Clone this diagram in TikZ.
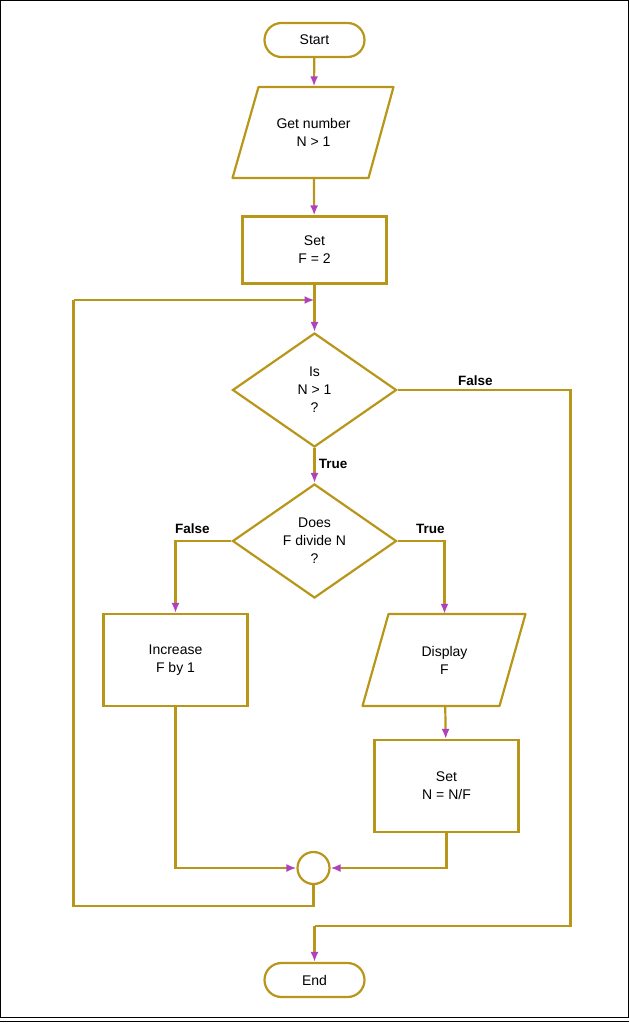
\documentclass[tikz,border=0pt]{standalone}
\usepackage{fontspec}
\setmainfont{Liberation Sans}
\usetikzlibrary{shapes.geometric,arrows.meta}
\definecolor{lc}{HTML}{B8961A}
\definecolor{tip}{HTML}{B040C0}
\begin{document}
\begin{tikzpicture}[x=1pt,y=-1pt,
  every node/.style={font=\fontsize{14}{18}\selectfont,align=center},
  box/.style={draw=lc,line width=2.2pt,minimum width=144,minimum height=#1},
  term/.style={draw=lc,line width=2.2pt,rounded corners=17,minimum width=100,minimum height=34},
  dec/.style={draw=lc,line width=2.2pt,diamond,minimum width=164,minimum height=114,aspect=1.44,inner sep=0},
  ln/.style={draw=lc,line width=2.2pt},
  arr/.style={ln,-{Latex[length=10,width=8,color=tip]}},
  lab/.style={font=\fontsize{13.5}{16}\selectfont\bfseries}]
\draw[black,line width=1pt] (0.5,0.5) rectangle (627.5,1017);
\draw[black,line width=1pt] (0,1021) -- (628,1021);
\node[term] (start) at (314,40) {Start};
\draw[ln,line join=round] (258,87) -- (393,87) -- (368,178) -- (232,178) -- cycle;
\node[minimum width=130,minimum height=91] (get) at (313,132) {Get number\\N > 1};
\node[box=67] (set) at (314,250) {Set\\F = 2};
\node[dec] (d1) at (314,390) {Is\\N > 1\\?};
\node[dec] (d2) at (314,541) {Does\\F divide N\\?};
\node[box=92] (inc) at (175,660) {Increase\\F by 1};
\draw[ln,line join=round] (388,614) -- (525,614) -- (499,706) -- (362,706) -- cycle;
\node[minimum width=130,minimum height=92] (disp) at (444,660) {Display\\F};
\node[box=92] (setn) at (446,786) {Set\\N = N/F};
\node[circle,draw=lc,line width=2.2pt,minimum size=32,inner sep=0] (j) at (313,868) {};
\node[term] (end) at (314,980) {End};
\coordinate (top) at (314,300);
\draw[arr] (start) -- (get);
\draw[arr] (get) -- (set);
\draw[arr] (set) -- (d1);
\draw[arr] (d1) -- node[lab,right,pos=0.45]{True} (d2);
\draw[arr] (d2.west) -| node[lab,above,pos=0.35,yshift=3]{False} (inc.north);
\draw[arr] (d2.east) -| node[lab,above,pos=0.35,yshift=3]{True} (disp.north);
\draw[arr] (disp) -- (setn);
\draw[arr] (inc.south) |- (j.west);
\draw[arr] (setn.south) |- (j.east);
\draw[ln] (j.south) -- (313,906) -- (73,906) -- (73,300);
\draw[arr] (73,300) -- (top);
\draw[ln] (d1.east) -- node[lab,above,pos=0.45]{False} (570,390) -- (570,926) -- (314,926);
\draw[arr] (314,926) -- (end.north);
\useasboundingbox (0,0) rectangle (628,1024);
\end{tikzpicture}
\end{document}
